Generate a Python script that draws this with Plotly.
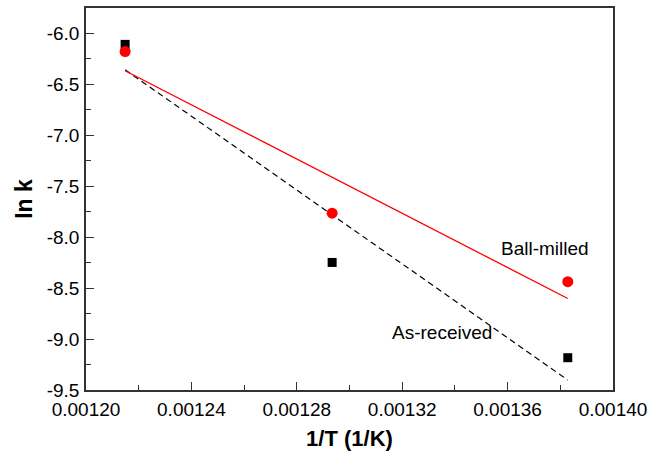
import numpy as np
import plotly.graph_objects as go

# Inverse temperature (1/K) for 550, 500 and 450 degC
inv_T = [1 / 823.15, 1 / 773.15, 1 / 723.15]

# ln k for each sample
ln_k_as_received = [-6.107, -8.248, -9.183]
ln_k_ball_milled = [-6.178, -7.764, -8.437]

# Axis ticks
x_tickvals = [0.00120, 0.00124, 0.00128, 0.00132, 0.00136, 0.00140]
x_ticktext = ["0.00120", "0.00124", "0.00128", "0.00132", "0.00136", "0.00140"]
y_tickvals = [-9.5, -9.0, -8.5, -8.0, -7.5, -7.0, -6.5, -6.0]
y_ticktext = ["-9.5", "-9.0", "-8.5", "-8.0", "-7.5", "-7.0", "-6.5", "-6.0"]

FONT = "Arial, Liberation Sans, sans-serif"

x = np.array(inv_T)
x_fit = np.array([x.min(), x.max()])

fig = go.Figure()

# Linear Arrhenius fits
p_ar = np.polyfit(x, ln_k_as_received, 1)
p_bm = np.polyfit(x, ln_k_ball_milled, 1)
fig.add_trace(go.Scatter(x=x_fit, y=np.polyval(p_ar, x_fit), mode="lines",
                         line=dict(color="black", width=1.2, dash="6px,4px"),
                         showlegend=False, hoverinfo="skip"))
fig.add_trace(go.Scatter(x=x_fit, y=np.polyval(p_bm, x_fit), mode="lines",
                         line=dict(color="#ff0000", width=1.3),
                         showlegend=False, hoverinfo="skip"))

# Measured points
fig.add_trace(go.Scatter(x=inv_T, y=ln_k_as_received, mode="markers",
                         marker=dict(symbol="square", size=9, color="black"),
                         name="As-received", showlegend=False))
fig.add_trace(go.Scatter(x=inv_T, y=ln_k_ball_milled, mode="markers",
                         marker=dict(symbol="circle", size=11, color="#ff0000"),
                         name="Ball-milled", showlegend=False))

fig.add_annotation(x=0.0013743, y=-8.108, text="Ball-milled", showarrow=False,
                   font=dict(family=FONT, size=19, color="black"))
fig.add_annotation(x=0.0013350, y=-8.937, text="As-received", showarrow=False,
                   font=dict(family=FONT, size=19, color="black"))

axis_common = dict(
    showline=True, linecolor="#333333", linewidth=1.5, mirror=True,
    ticks="inside", ticklen=8, tickwidth=1.2, tickcolor="#333333",
    showgrid=False, zeroline=False,
    tickfont=dict(family=FONT, size=19, color="black"),
)

fig.update_xaxes(
    range=[0.00120, 0.00140], tickvals=x_tickvals, ticktext=x_ticktext,
    minor=dict(ticks="inside", ticklen=5, tickwidth=1.2, tickcolor="#333333",
               dtick=0.00002, tick0=0.0012, showgrid=False),
    title=dict(text="<b>1/T (1/K)</b>", font=dict(family=FONT, size=22, color="black"),
               standoff=12),
    ticklabelstandoff=1,
    **axis_common,
)
fig.update_yaxes(
    range=[-9.5, -5.75], tickvals=y_tickvals, ticktext=y_ticktext,
    minor=dict(ticks="inside", ticklen=5, tickwidth=1.2, tickcolor="#333333",
               dtick=0.25, tick0=-9.5, showgrid=False),
    title=dict(text="<b>In k</b>", font=dict(family=FONT, size=23, color="black"),
               standoff=8),
    ticklabelstandoff=1,
    **axis_common,
)

fig.update_layout(
    width=653, height=458,
    margin=dict(l=86, r=38, t=6, b=68),
    plot_bgcolor="white", paper_bgcolor="white",
)

fig.write_html("out.html")
